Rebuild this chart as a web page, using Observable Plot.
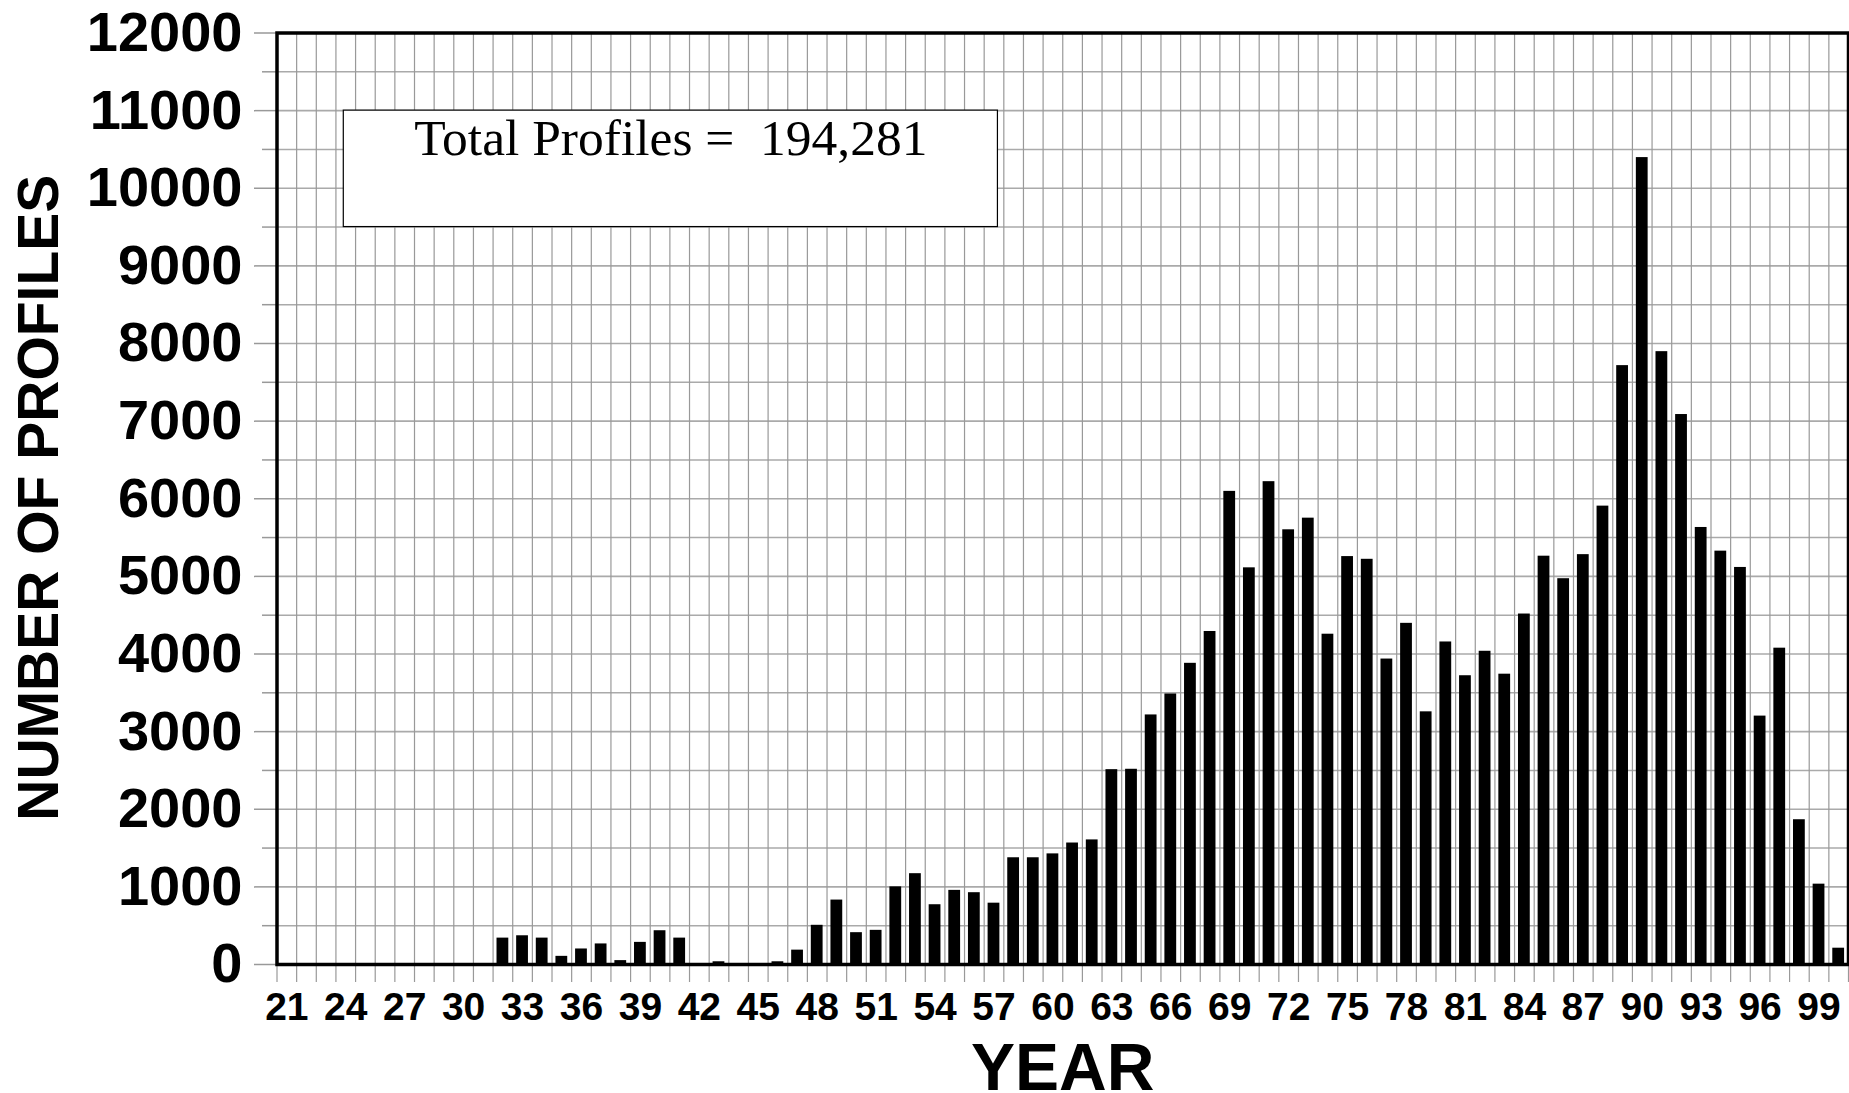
<!DOCTYPE html>
<html>
<head>
<meta charset="utf-8">
<script src="https://cdn.jsdelivr.net/npm/d3@7"></script>
<script src="https://cdn.jsdelivr.net/npm/@observablehq/plot@0.6"></script>
<style>
  html, body { margin: 0; padding: 0; background: #fff; overflow: hidden; }
  #chart svg { display: block; overflow: hidden; }
</style>
</head>
<body>
<div id="chart"></div>
<script>
// ---- Data ----
const years = [21,22,23,24,25,26,27,28,29,30,31,32,33,34,35,36,37,38,39,40,
               41,42,43,44,45,46,47,48,49,50,51,52,53,54,55,56,57,58,59,60,
               61,62,63,64,65,66,67,68,69,70,71,72,73,74,75,76,77,78,79,80,
               81,82,83,84,85,86,87,88,89,90,91,92,93,94,95,96,97,98,99,100];
const counts = [0,0,0,0,0,0,0,0,0,0,0,340,370,340,105,200,265,50,285,435,
                340,0,35,0,0,35,185,505,830,410,440,1000,1170,770,955,925,790,1375,1375,1425,
                1565,1605,2510,2515,3215,3485,3880,4290,6095,5110,6220,5600,5750,4255,5255,5220,3935,4395,3255,4155,
                3720,4035,3740,4515,5260,4970,5280,5905,7715,10395,7895,7085,5630,5325,5115,3200,4075,1865,1035,210];
const xTickLabels = [21,24,27,30,33,36,39,42,45,48,51,54,57,60,63,66,69,72,75,78,81,84,87,90,93,96,99];
const yTickLabels = [0,1000,2000,3000,4000,5000,6000,7000,8000,9000,10000,11000,12000];
const yMinorTicks = [500,1500,2500,3500,4500,5500,6500,7500,8500,9500,10500,11500];
const totalLabel = "Total Profiles =  194,281";
const xTitle = "YEAR";
const yTitle = "NUMBER OF PROFILES";

// ---- Derived tables ----
const data = years.map((year, i) => ({year, count: counts[i]}));
const boundaries = years.map(y => y - 0.5).concat([years[years.length - 1] + 0.5]);
const yGrid = yTickLabels.concat(yMinorTicks);

const sans = "'Liberation Sans', Arial, Helvetica, sans-serif";
const serif = "'Liberation Serif', 'Times New Roman', Times, serif";

const chart = Plot.plot({
  width: 1849,
  height: 1093,
  marginLeft: 276.5,
  marginRight: 1,
  marginTop: 32.5,
  marginBottom: 129,
  style: {background: "white", fontFamily: sans, color: "black", overflow: "hidden"},
  x: {type: "linear", domain: [20.5, 100.5], axis: null, label: null},
  y: {domain: [0, 12000], axis: null, label: null},
  marks: [
    // grid
    Plot.ruleY(yGrid, {stroke: "#aaa", strokeWidth: 1.6}),
    Plot.ruleX(boundaries, {stroke: "#999", strokeWidth: 1.2}),
    // y ticks (major / minor) and labels
    Plot.axisY({ticks: yTickLabels, tickSize: 22.5, tickFormat: () => "", label: null, stroke: "#999", strokeWidth: 1.5}),
    Plot.axisY({ticks: yMinorTicks, tickSize: 14.5, tickFormat: () => "", label: null, stroke: "#999", strokeWidth: 1.5}),
    Plot.axisY({ticks: yTickLabels, tickSize: 0, tickPadding: 34.5, tickFormat: d => String(d), label: null,
                fontSize: 56, fontWeight: "bold", fill: "black", fontFamily: sans}),
    // x ticks and labels
    Plot.axisX({ticks: boundaries, tickSize: 18, tickFormat: () => "", label: null, stroke: "#999", strokeWidth: 1.2}),
    Plot.axisX({ticks: xTickLabels, tickSize: 0, tickPadding: 28, tickFormat: d => String(d), label: null,
                fontSize: 39, fontWeight: "bold", fill: "black", fontFamily: sans}),
    // bars
    Plot.rectY(data, {x1: d => d.year - 0.3, x2: d => d.year + 0.3, y: "count", fill: "black"}),
    // annotation box
    Plot.rect([totalLabel], {x1: 23.9, x2: 57.2, y1: 9500, y2: 11000, fill: "white", stroke: "black", strokeWidth: 1.2}),
    Plot.text([totalLabel], {x: 40.55, y: 10422, text: d => d, lineAnchor: "bottom", textAnchor: "middle",
                             fontFamily: serif, fontSize: 51.5, fill: "black"}),
    // frame
    Plot.frame({stroke: "black", strokeWidth: 3.5}),
    // titles
    Plot.text([xTitle], {frameAnchor: "bottom", lineAnchor: "top", textAnchor: "middle", dy: 79, text: d => d,
                         fontSize: 66, fontWeight: "bold", fontFamily: sans, fill: "black"}),
    Plot.text([yTitle], {frameAnchor: "left", rotate: -90, dx: -237, dy: -1, text: d => d,
                         textAnchor: "middle", lineAnchor: "middle", fontSize: 57, fontWeight: "bold",
                         fontFamily: sans, fill: "black"})
  ]
});

document.getElementById("chart").appendChild(chart);
</script>
</body>
</html>
